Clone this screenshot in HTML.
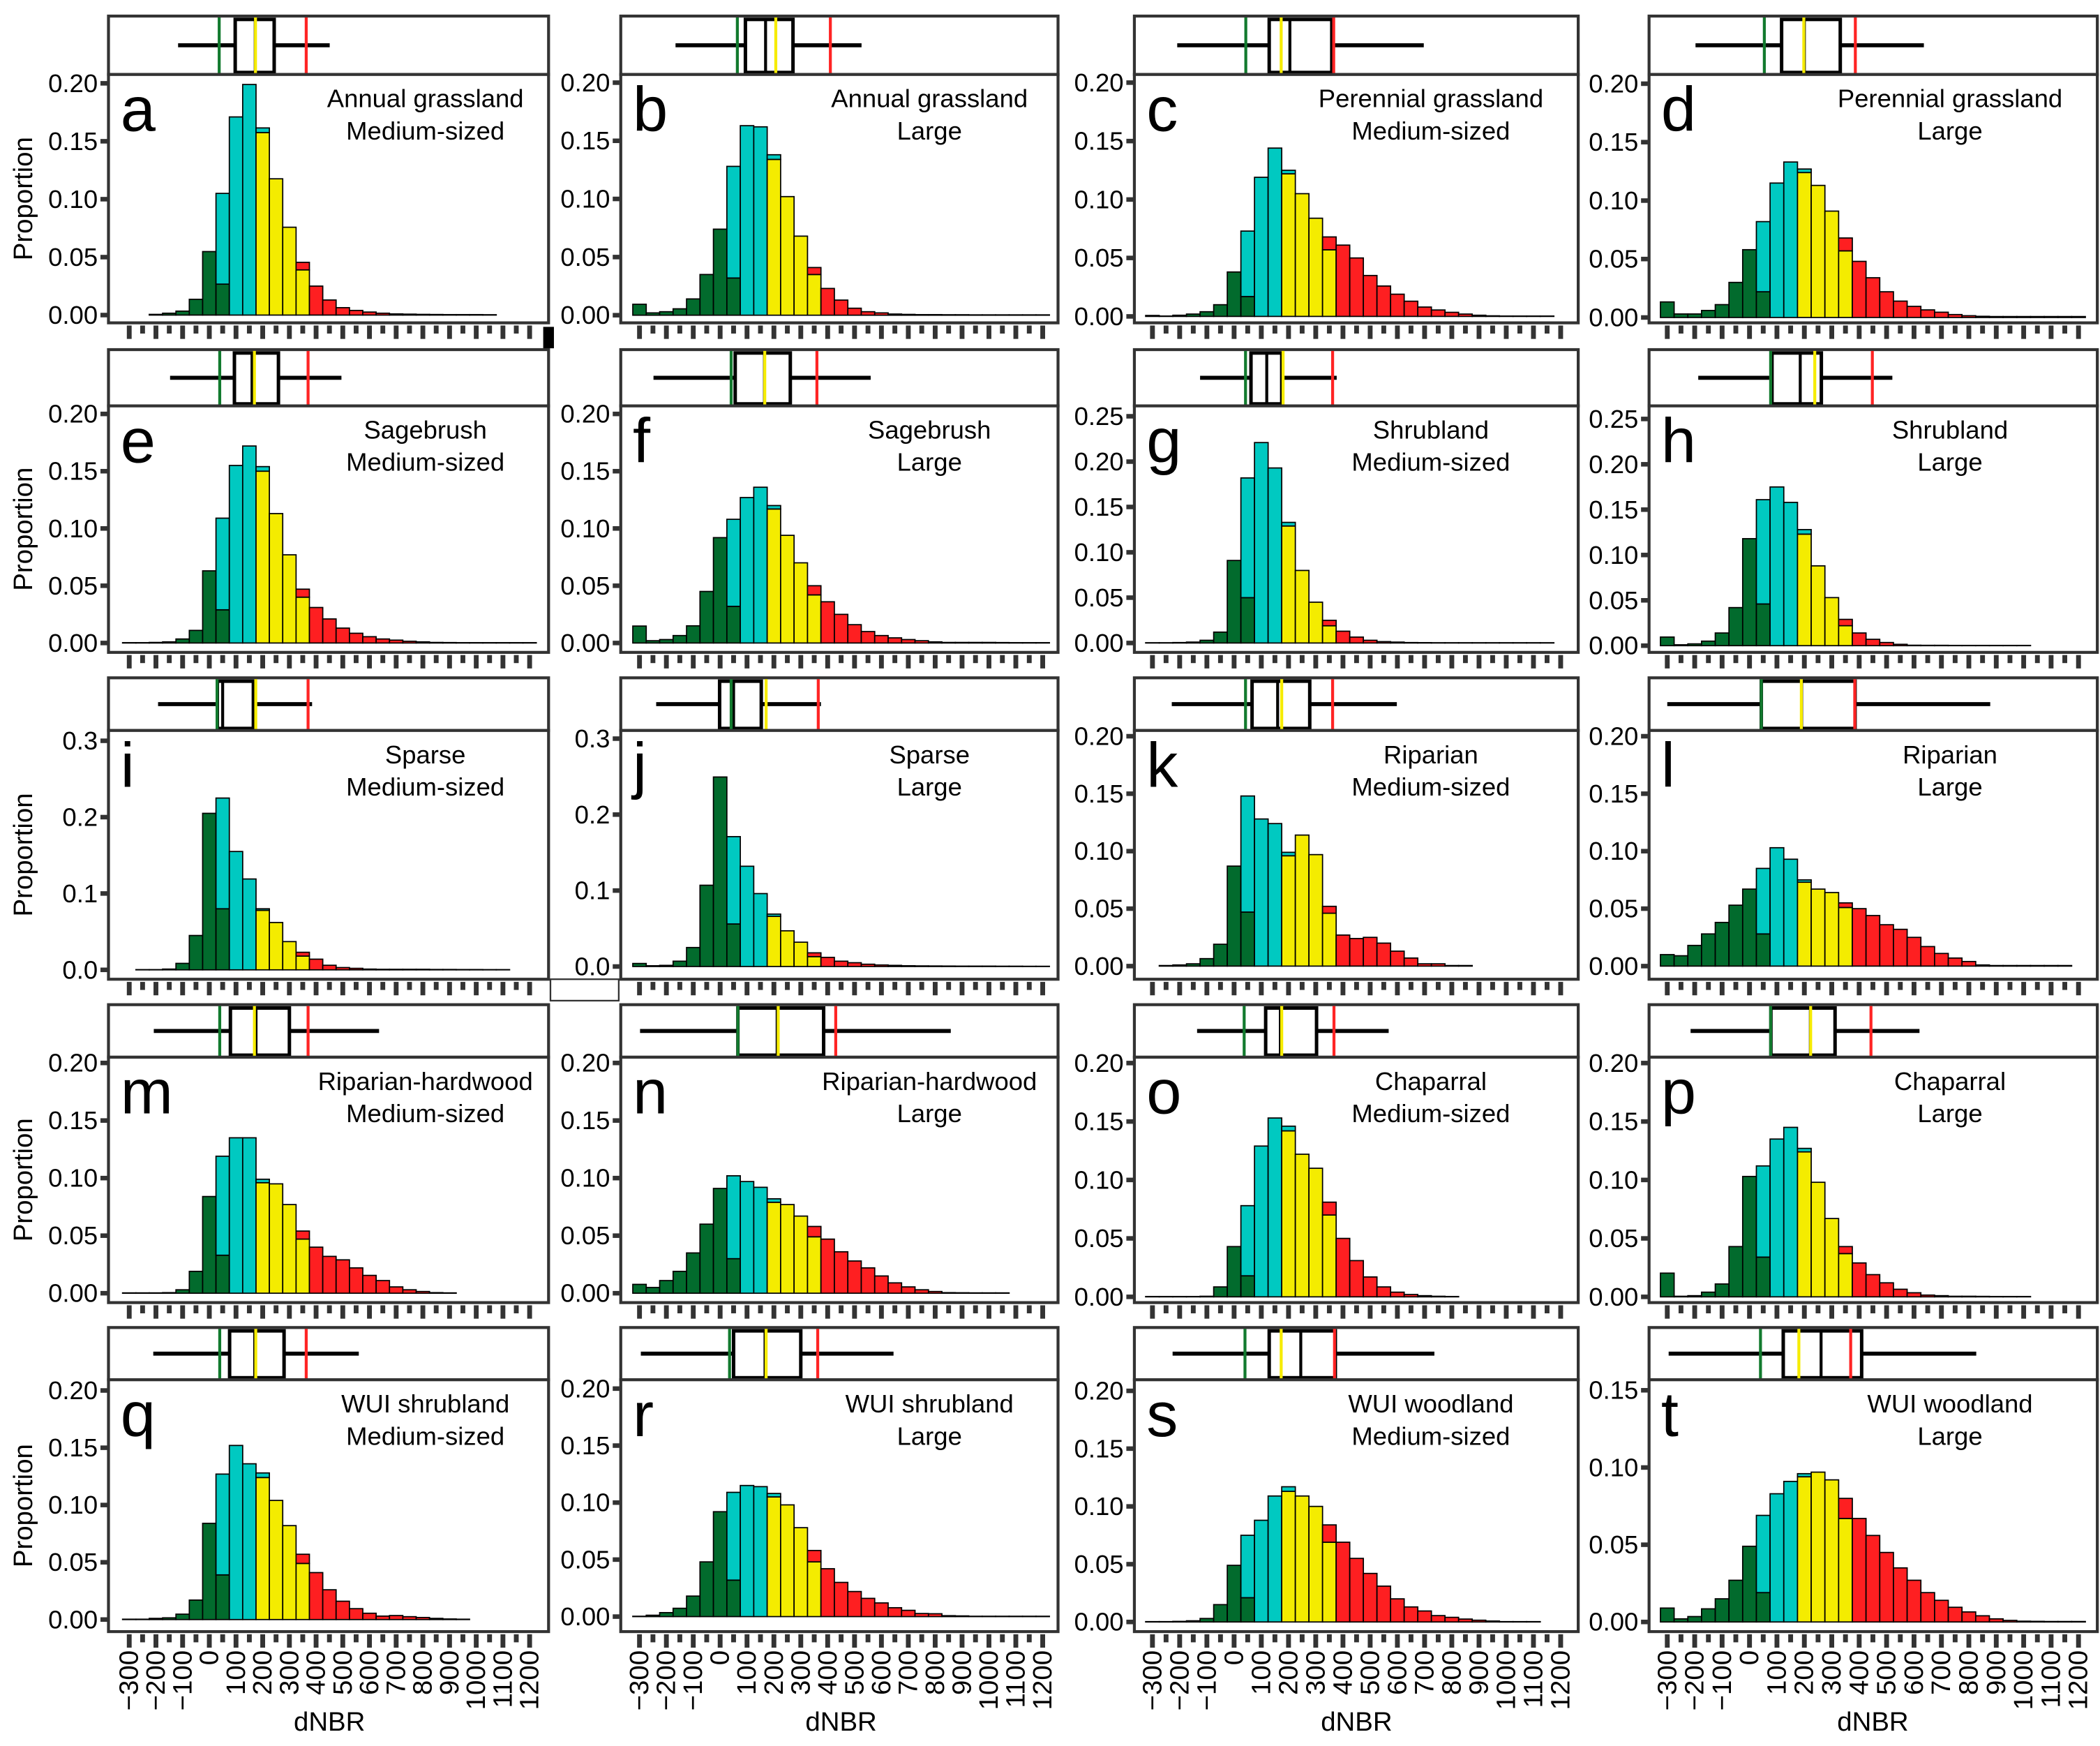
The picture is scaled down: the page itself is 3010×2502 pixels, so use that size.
<!DOCTYPE html>
<html><head><meta charset="utf-8"><title>dNBR histograms</title>
<style>
html,body{margin:0;padding:0;background:#fff;}
svg{display:block;font-family:"Liberation Sans",Arial,sans-serif;}
</style></head>
<body>
<svg id="fig" width="3010" height="2502" viewBox="0 0 1568 1303.4" preserveAspectRatio="none" xmlns="http://www.w3.org/2000/svg">
<rect x="0" y="0" width="1568" height="1303.4" fill="#fff"/>
<rect x="405.6" y="244" width="8" height="16" fill="#000"/>
<rect x="411" y="731" width="51" height="16" fill="none" stroke="#333" stroke-width="1.2"/>
</svg>
<script>
// ---- data ----
const panelLetters = ['a','b','c','d','e','f','g','h','i','j','k','l','m','n','o','p','q','r','s','t'];
const titleLine1 = ['Annual grassland','Annual grassland','Perennial grassland','Perennial grassland','Sagebrush','Sagebrush','Shrubland','Shrubland','Sparse','Sparse','Riparian','Riparian','Riparian-hardwood','Riparian-hardwood','Chaparral','Chaparral','WUI shrubland','WUI shrubland','WUI woodland','WUI woodland'];
const titleLine2 = ['Medium-sized','Large','Medium-sized','Large','Medium-sized','Large','Medium-sized','Large','Medium-sized','Large','Medium-sized','Large','Medium-sized','Large','Medium-sized','Large','Medium-sized','Large','Medium-sized','Large'];
// bin centers -300..1200 step 50
const binCenters = [-300,-250,-200,-150,-100,-50,0,50,100,150,200,250,300,350,400,450,500,550,600,650,700,750,800,850,900,950,1000,1050,1100,1150,1200];
const totals = [
[0,0,.0006,.0016,.0034,.0136,.0548,.105,.171,.199,.1615,.1176,.0758,.0455,.025,.013,.0064,.004,.0026,.0016,.001,.0008,.0006,.0005,.0004,.0004,.0004,.0003,0,0,0],
[.0094,.002,.003,.0055,.014,.035,.074,.128,.163,.162,.138,.102,.068,.041,.023,.013,.006,.003,.002,.001,.0007,.0005,.0005,.0004,.0004,.0003,.0003,.0003,.0003,.0003,.0003],
[.0008,.0003,.001,.002,.004,.010,.038,.073,.119,.144,.125,.105,.084,.068,.061,.050,.035,.026,.019,.013,.008,.0055,.0035,.002,.001,.0005,.0003,.0003,.0003,.0003,0],
[.0133,.003,.003,.006,.011,.030,.058,.082,.115,.133,.127,.113,.091,.068,.048,.034,.022,.014,.0095,.0065,.0045,.0025,.0015,.001,.0008,.0008,.0008,.0008,.0008,.0008,.0008],
[.0003,.0003,.0005,.001,.0035,.011,.063,.109,.155,.172,.154,.113,.077,.047,.031,.021,.013,.0085,.0055,.0035,.0025,.0015,.001,.0005,.0004,.0003,.0003,.0003,.0003,.0003,.0003],
[.0148,.002,.003,.0065,.015,.045,.092,.108,.127,.136,.120,.094,.070,.050,.036,.025,.016,.010,.0065,.0045,.003,.002,.001,.0005,.0005,.0005,.0005,.0004,.0003,.0003,.0003],
[.0003,.0003,.0005,.001,.003,.012,.091,.182,.221,.193,.133,.080,.045,.025,.013,.0065,.003,.0015,.001,.0005,.0004,.0003,.0003,.0003,.0003,.0003,.0003,.0003,.0003,.0003,0],
[.0095,.001,.002,.005,.014,.042,.118,.161,.175,.158,.128,.088,.053,.029,.014,.007,.0035,.0015,.0005,.0004,.0004,.0003,.0003,.0003,.0003,.0003,.0003,0,0,0,0],
[0,.0003,.0003,.001,.0085,.045,.205,.225,.155,.119,.080,.062,.037,.023,.014,.006,.003,.002,.001,.0007,.0007,.0007,.0007,.0005,.0005,.0004,.0004,.0003,.0003,0,0],
[.004,.001,.0015,.007,.025,.107,.2495,.171,.132,.096,.069,.047,.032,.018,.012,.007,.005,.003,.002,.0015,.001,.0008,.0007,.0006,.0005,.0005,.0005,.0004,.0004,.0003,.0003],
[0,.0005,.001,.002,.0065,.019,.087,.148,.128,.124,.099,.114,.097,.052,.027,.024,.025,.020,.013,.007,.002,.002,.0005,.0005,0,0,0,0,0,0,0],
[.010,.009,.018,.028,.038,.053,.067,.085,.103,.093,.075,.067,.064,.055,.050,.044,.036,.032,.025,.017,.011,.007,.004,.001,.0005,.0005,.0005,.0005,.0005,.0005,0],
[.0003,.0003,.0003,.0005,.003,.019,.084,.119,.135,.135,.099,.095,.077,.054,.040,.032,.029,.022,.0155,.011,.0055,.003,.0015,.0005,.0003,0,0,0,0,0,0],
[.0077,.005,.011,.019,.035,.060,.091,.102,.097,.092,.082,.077,.067,.058,.047,.036,.028,.022,.015,.009,.0055,.003,.0015,.0005,.0004,.0003,.0003,.0003,0,0,0],
[.0003,.0003,.0003,.0003,.0005,.0085,.043,.078,.129,.153,.146,.122,.110,.081,.050,.031,.017,.0085,.004,.002,.001,.0005,.0003,0,0,0,0,0,0,0,0],
[.0203,.0005,.001,.004,.011,.043,.103,.112,.135,.145,.127,.098,.067,.043,.029,.019,.012,.0065,.0035,.0015,.001,.0005,.0005,.0004,.0003,.0003,.0003,0,0,0,0],
[.0003,.0003,.001,.0015,.0047,.017,.084,.127,.152,.136,.128,.104,.082,.057,.041,.026,.016,.0095,.0055,.003,.0035,.0025,.0018,.001,.0005,.0003,0,0,0,0,0],
[.0003,.0012,.0035,.0073,.018,.048,.092,.109,.115,.114,.108,.098,.078,.058,.042,.030,.022,.016,.012,.0078,.0055,.0027,.0025,.0008,.0006,.0003,.0003,.0003,.0003,.0003,.0003],
[.0003,.0003,.0005,.001,.003,.015,.049,.075,.088,.109,.117,.109,.100,.084,.069,.055,.042,.031,.020,.013,.0095,.0055,.004,.0025,.0015,.0008,.0003,.0003,.0003,0,0],
[.009,.002,.0035,.0085,.015,.027,.049,.069,.083,.091,.096,.097,.092,.080,.067,.056,.045,.035,.027,.019,.014,.0095,.0065,.004,.002,.001,.0005,.0004,.0003,.0003,.0003]
];
// lower-segment heights in the three mixed bins (50: green, 200: yellow, 350: yellow)
const splitLower = [
[.0267,.1575,.039],[.032,.134,.035],[.017,.122,.057],[.022,.124,.057],
[.029,.150,.040],[.032,.117,.042],[.050,.129,.019],[.046,.123,.022],
[.080,.078,.018],[.056,.066,.013],[.047,.096,.046],[.028,.073,.051],
[.033,.096,.047],[.030,.079,.049],[.018,.142,.070],[.034,.124,.037],
[.039,.124,.049],[.032,.105,.048],[.021,.113,.069],[.019,.094,.067]
];
// threshold lines: green, yellow, red (dNBR)
const thresholds = [
[37,173,363],[64,207,410],[43,173,366],[54,198,386],
[39,169,370],[41,166,360],[42,180,362],[77,238,448],
[29,174,370],[41,171,365],[42,175,362],[43,189,384],
[39,169,370],[66,216,430],[37,175,367],[77,223,443],
[39,174,363],[35,171,363],[40,173,369],[40,180,369]
];
// boxplot: whisker low, q1, median, q3, whisker high
const boxStats = [
[-117,97,172,243,451],[-166,94,169,271,526],[-209,129,205,359,697],[-197,117,200,331,636],
[-147,94,160,259,495],[-248,56,165,261,560],[-125,62,120,175,377],[-187,82,185,262,521],
[-192,30,50,165,385],[-238,-2,50,153,375],[-229,66,160,278,598],[-300,43,190,385,878],
[-208,79,175,300,636],[-298,66,212,385,858],[-136,116,170,303,568],[-215,78,222,312,620],
[-210,76,170,280,560],[-295,50,167,300,645],[-226,129,245,372,736],[-295,123,261,409,827]
];
const yTickTop = [0.2,0.2,0.2,0.2,0.2,0.2,0.25,0.25,0.3,0.3,0.2,0.2,0.2,0.2,0.2,0.2,0.2,0.2,0.2,0.15];
const yTickStep = [0.05,0.05,0.05,0.05,0.05,0.05,0.05,0.05,0.1,0.1,0.05,0.05,0.05,0.05,0.05,0.05,0.05,0.05,0.05,0.05];
const xTickLabels = ['\u2212300','\u2212200','\u2212100','0','100','200','300','400','500','600','700','800','900','1000','1100','1200'];

// ---- layout (pixels, viewBox units) ----
const colL = [81,463.5,847,1231.3];
const colR = [409.6,790,1178.4,1566];
const colX0 = [96.5,477.5,860.5,1244.9];
const colK = [0.1993,0.2007,0.2032,0.2047];
const titleOffset = [92,96,110,110];
const rowStripTop = [12,261,506,750,991];
const rowPlotTop = [55.6,303,545.3,789.2,1030];
const rowPlotBot = [241,487,731,972.4,1218];
const zeroPx = [235.2,235.3,236.2,237,480,480,480,482,724,721.5,721.2,721.2,965.4,965.4,968.1,968.1,1209,1206.8,1210.8,1210.8];
const pxPerUnit = [865,868,872.6,872.6,855,855,677,677,570,567,858,858,859.5,859.5,872.6,872.6,855,851,862.6,1153];

const COL = {g:'#026b2d', c:'#00c9c1', y:'#f4ec00', r:'#fe1f21'};
const LINE = {g:'#127a2e', y:'#f6ec00', r:'#ff2424'};
const NS = 'http://www.w3.org/2000/svg';
const svg = document.getElementById('fig');

function mk(tag, attrs, parent){
  const e = document.createElementNS(NS, tag);
  for (const k in attrs) e.setAttribute(k, attrs[k]);
  (parent||svg).appendChild(e);
  return e;
}
function xS(col, v){ return colX0[col] + (v + 300) * colK[col]; }
function yS(p, val){ return zeroPx[p] - val * pxPerUnit[p]; }
function binClass(i){
  if (i <= 6) return ['g'];
  if (i === 7) return ['g','c'];
  if (i <= 9) return ['c'];
  if (i === 10) return ['y','c'];
  if (i <= 12) return ['y'];
  if (i === 13) return ['y','r'];
  return ['r'];
}
function splitIndex(i){ return i === 7 ? 0 : (i === 10 ? 1 : 2); }

for (let p = 0; p < 20; p++){
  const col = p % 4, row = Math.floor(p / 4);
  const L = colL[col], R = colR[col];
  const sT = rowStripTop[row], pT = rowPlotTop[row], pB = rowPlotBot[row];
  const g = mk('g', {});
  
  

  const strip = mk('rect', {x:L, y:sT, width:R-L, height:pT-sT, fill:'#fff', stroke:'#333', 'stroke-width':2.2}, g);
  
  
  const bs = boxStats[p];
  const wy = (sT + pT) / 2;
  const wl = mk('line', {x1:xS(col,bs[0]), x2:xS(col,bs[1]), y1:wy, y2:wy, stroke:'#000', 'stroke-width':3}, g);
  
  
  const wh = mk('line', {x1:xS(col,bs[3]), x2:xS(col,bs[4]), y1:wy, y2:wy, stroke:'#000', 'stroke-width':3}, g);
  
  
  const bx = mk('rect', {x:xS(col,bs[1]), y:sT+2.5, width:xS(col,bs[3])-xS(col,bs[1]), height:pT-sT-4, fill:'#fff', stroke:'#000', 'stroke-width':2.6}, g);
  
  
  const md = mk('line', {x1:xS(col,bs[2]), x2:xS(col,bs[2]), y1:sT+2.5, y2:pT-1.5, stroke:'#000', 'stroke-width':2.2}, g);
  
  
  ['g','y','r'].forEach((k, j) => {
    const tl = mk('line', {x1:xS(col,thresholds[p][j]), x2:xS(col,thresholds[p][j]), y1:sT+1, y2:pT-1, stroke:LINE[k], 'stroke-width':2.2}, g);
    
    
  });

  const fr = mk('rect', {x:L, y:pT, width:R-L, height:pB-pT, fill:'#fff', stroke:'#333', 'stroke-width':2.2}, g);
  
  

  const bw = 50 * colK[col];
  const tot = totals[p];
  for (let i = 0; i < binCenters.length; i++){
    const v = tot[i];
    if (!v) continue;
    const x = xS(col, binCenters[i]) - bw/2;
    const cls = binClass(i);
    if (cls.length === 1){
      const b = mk('rect', {x:x, y:yS(p,v), width:bw, height:v*pxPerUnit[p], fill:COL[cls[0]], stroke:'#000', 'stroke-width':0.9}, g);
      
      
    } else {
      const lo = Math.min(splitLower[p][splitIndex(i)], v);
      const b1 = mk('rect', {x:x, y:yS(p,lo), width:bw, height:lo*pxPerUnit[p], fill:COL[cls[0]], stroke:'#000', 'stroke-width':0.9}, g);
      
      
      const b2 = mk('rect', {x:x, y:yS(p,v), width:bw, height:(v-lo)*pxPerUnit[p], fill:COL[cls[1]], stroke:'#000', 'stroke-width':0.9}, g);
      
      
    }
  }

  const nT = Math.round(yTickTop[p] / yTickStep[p]);
  for (let k = 0; k <= nT; k++){
    const val = k * yTickStep[p];
    const y = yS(p, val);
    const tk = mk('rect', {x:L-6, y:y-1.7, width:5, height:3.4, fill:'#333'}, g);
    
    
    const t = mk('text', {x:L-8, y:y, 'text-anchor':'end', 'dominant-baseline':'central', 'font-size':19, fill:'#000'}, g);
    t.textContent = val.toFixed(yTickStep[p] < 0.1 ? 2 : 1);
    
    
  }

  for (let v = -300; v <= 1200; v += 50){
    const long = (v % 100 === 0);
    const xt = mk('rect', {x:xS(col,v)-1.8, y:pB+2, width:3.6, height:long?10:6, fill:'#333'}, g);
    
    
  }
  if (row === 4){
    for (let k = 0; k < xTickLabels.length; k++){
      const xv = xS(col, -300 + k*100);
      const t = mk('text', {x:0, y:0, 'text-anchor':'end', 'dominant-baseline':'central', 'font-size':20, fill:'#000', transform:'translate(' + xv + ',' + (pB+14) + ') rotate(-90)'}, g);
      t.textContent = xTickLabels[k];
      
      
    }
    const xl = mk('text', {x:(xS(col,-300)+xS(col,1200))/2, y:1292, 'text-anchor':'middle', 'font-size':20, fill:'#000'}, g);
    xl.textContent = 'dNBR';
    
    
  }
  if (col === 0){
    const cy = (pT + pB) / 2;
    const yl = mk('text', {x:0, y:0, 'text-anchor':'middle', 'dominant-baseline':'central', 'font-size':20, fill:'#000', transform:'translate(17.5,' + cy + ') rotate(-90)'}, g);
    yl.textContent = 'Proportion';
    
    
  }

  const lt = mk('text', {x:L+9, y:pT+42, 'font-size':47, fill:'#000'}, g);
  lt.textContent = panelLetters[p];
  
  
  const t1 = mk('text', {x:R-titleOffset[col], y:pT+24.5, 'text-anchor':'middle', 'font-size':19, fill:'#000'}, g);
  t1.textContent = titleLine1[p];
  
  
  const t2 = mk('text', {x:R-titleOffset[col], y:pT+48.5, 'text-anchor':'middle', 'font-size':19, fill:'#000'}, g);
  t2.textContent = titleLine2[p];
  
  
}
</script>
</body></html>
